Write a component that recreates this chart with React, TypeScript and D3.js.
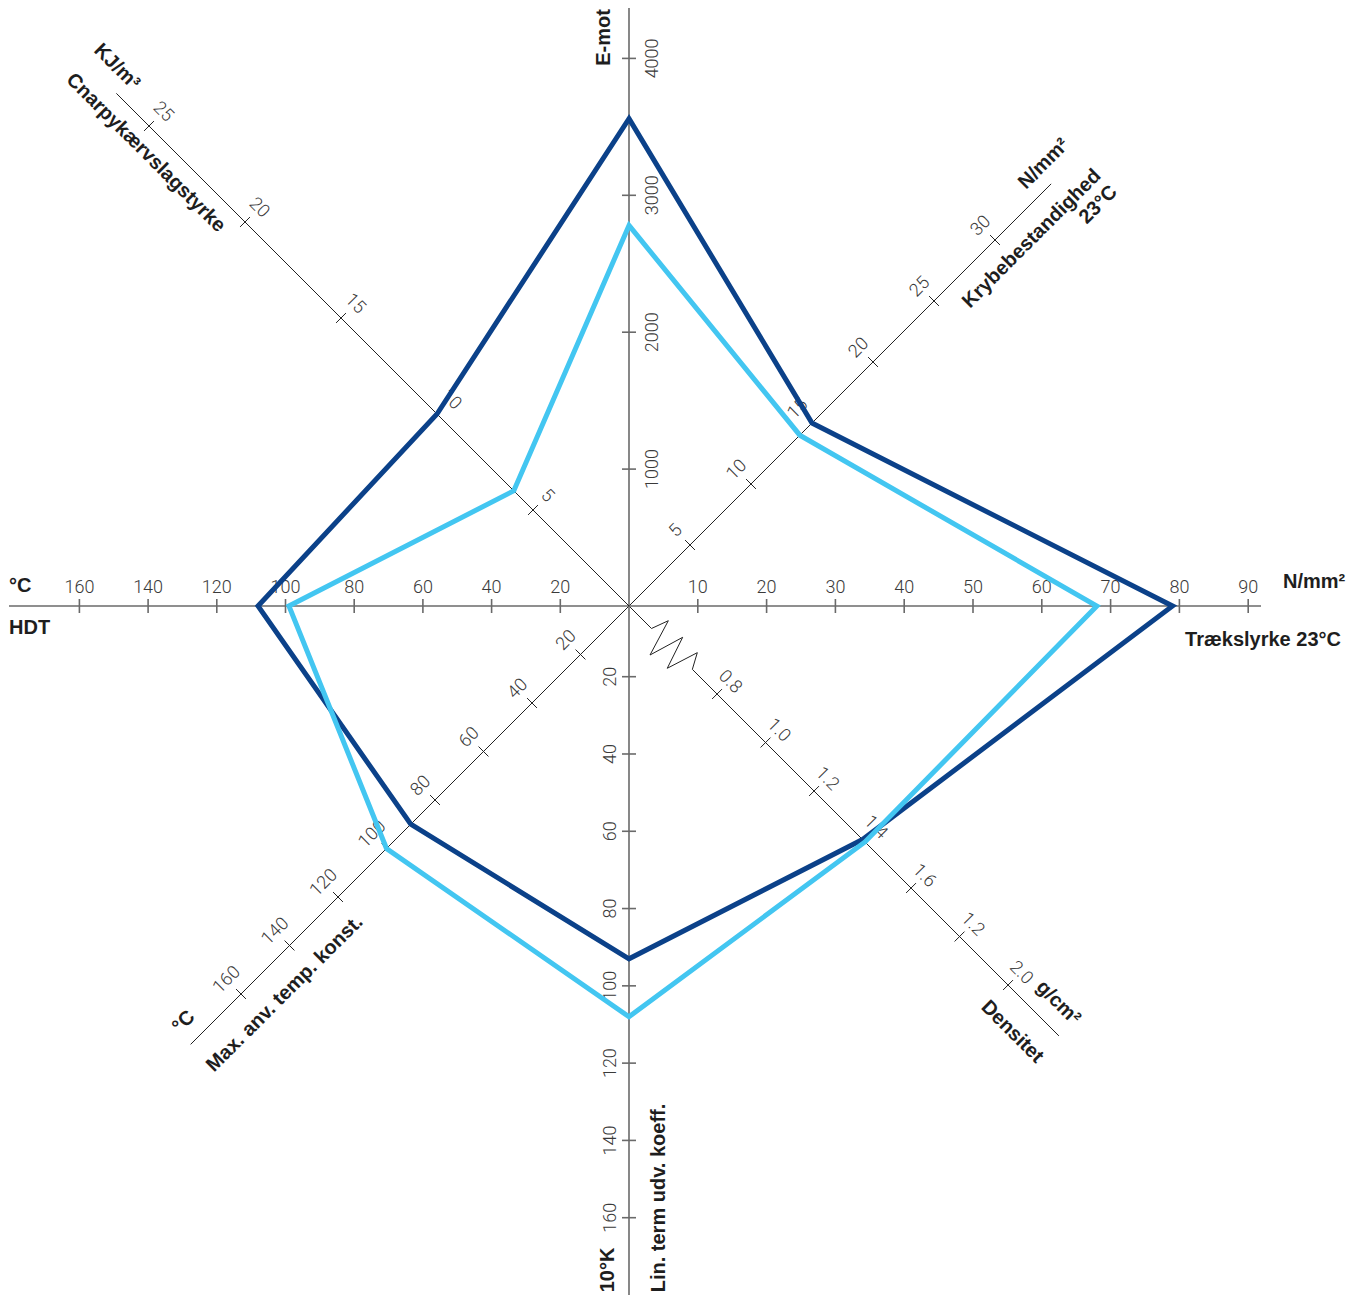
import React from "react";
import * as d3 from "d3";

// ---------- data ----------
const axisTitles = [
  "E-mot",
  "Krybebestandighed",
  "Trækslyrke 23°C",
  "Densitet",
  "Lin. term udv. koeff.",
  "Max. anv. temp. konst.",
  "HDT",
  "Cnarpykærvslagstyrke",
];
const axisUnits = ["", "N/mm²", "N/mm²", "g/cm²", "10°K", "°C", "°C", "KJ/m³"];

const emotTicks = [1000, 2000, 3000, 4000];
const krybeTicks = [5, 10, 15, 20, 25, 30];
const traekTicks = [10, 20, 30, 40, 50, 60, 70, 80, 90];
const densTicks = [0.8, 1.0, 1.2, 1.4, 1.6, 1.8, 2.0];
const densTickLabels = ["0.8", "1.0", "1.2", "1.4", "1.6", "1.2", "2.0"];
const linTicks = [20, 40, 60, 80, 100, 120, 140, 160];
const maxTempTicks = [20, 40, 60, 80, 100, 120, 140, 160];
const hdtTicks = [20, 40, 60, 80, 100, 120, 140, 160];
const charpyTicks = [5, 10, 15, 20, 25];

// values in axis order: E-mot, Krybe, Træk, Densitet, Lin, MaxTemp, HDT, Charpy
const seriesDark = [3560, 15, 79, 1.4, 93, 90, 108, 10];
const seriesLight = [2780, 14, 68, 1.41, 108, 100, 99, 6];

// ---------- layout ----------
const W = 1358;
const H = 1300;
const cx = 629;
const cy = 606;
const S2 = Math.SQRT2;

type AxisCfg = {
  angle: number;
  scale: d3.ScaleLinear<number, number>;
  len: number;
  ticks: number[];
  labels: string[];
  off: [number, number];
  rot: number;
  main: boolean;
};

const fmt = (v: number) => String(v);

const axes: AxisCfg[] = [
  { angle: -90, scale: d3.scaleLinear().domain([0, 4000]).range([0, 547.6]), len: 598, ticks: emotTicks, labels: emotTicks.map(fmt), off: [22, 0], rot: -90, main: true },
  { angle: -45, scale: d3.scaleLinear().domain([0, 30]).range([0, 30 * 12.2 * S2]), len: 597, ticks: krybeTicks, labels: krybeTicks.map(fmt), off: [-15, -15], rot: -45, main: false },
  { angle: 0, scale: d3.scaleLinear().domain([0, 90]).range([0, 619.2]), len: 632, ticks: traekTicks, labels: traekTicks.map(fmt), off: [0, -20], rot: 0, main: true },
  { angle: 45, scale: d3.scaleLinear().domain([0.8, 2.0]).range([124.5, 124.5 + 6 * 48.5 * S2]), len: 608, ticks: densTicks, labels: densTickLabels, off: [14, -13], rot: 45, main: false },
  { angle: 90, scale: d3.scaleLinear().domain([20, 160]).range([70.7, 611.7]), len: 689, ticks: linTicks, labels: linTicks.map(fmt), off: [-20, 0], rot: -90, main: true },
  { angle: 135, scale: d3.scaleLinear().domain([0, 160]).range([0, 8 * 48.5 * S2]), len: 620, ticks: maxTempTicks, labels: maxTempTicks.map(fmt), off: [-15, -15], rot: -45, main: false },
  { angle: 180, scale: d3.scaleLinear().domain([0, 160]).range([0, 8 * 68.7]), len: 620, ticks: hdtTicks, labels: hdtTicks.map(fmt), off: [0, -20], rot: 0, main: true },
  { angle: -135, scale: d3.scaleLinear().domain([0, 25]).range([0, 5 * 96 * S2]), len: 725, ticks: charpyTicks, labels: charpyTicks.map(fmt), off: [15, -15], rot: 45, main: false },
];

const zig: [number, number][] = [
  [31.8, 0], [38.2, 17.4], [49.5, -19.8], [60.1, 15.8], [71.1, -17], [81.3, 15.3], [89.6, 0],
];

function pt(a: AxisCfg, dist: number, w = 0): [number, number] {
  const t = (a.angle * Math.PI) / 180;
  const dx = Math.cos(t), dy = Math.sin(t);
  const px = dy, py = -dx;
  return [cx + dist * dx + w * px, cy + dist * dy + w * py];
}

const tickFont = "Roboto, 'Liberation Sans', Arial, sans-serif";
const boldFont = "'Liberation Sans', Arial, Helvetica, sans-serif";

function Axis({ a, idx }: { a: AxisCfg; idx: number }) {
  const stroke = a.main ? "#6a6a6a" : "#222";
  const sw = a.main ? 1.6 : 1;
  const end = pt(a, a.len);
  let lineEls: React.ReactNode;
  if (idx === 3) {
    const pts = zig.map(([u, w]) => pt(a, u, w));
    const path = d3.line()([[cx, cy], ...pts, end] as [number, number][]);
    lineEls = <path d={path || ""} fill="none" stroke={stroke} strokeWidth={sw} strokeLinejoin="miter" />;
  } else {
    lineEls = <line x1={cx} y1={cy} x2={end[0]} y2={end[1]} stroke={stroke} strokeWidth={sw} />;
  }
  return (
    <g>
      {lineEls}
      {a.ticks.map((v, i) => {
        const d = a.scale(v);
        const p1 = pt(a, d, 7);
        const p2 = pt(a, d, -7);
        const c = pt(a, d);
        return (
          <g key={i}>
            <line x1={p1[0]} y1={p1[1]} x2={p2[0]} y2={p2[1]} stroke={stroke} strokeWidth={sw} />
            <text
              transform={`translate(${c[0] + a.off[0]},${c[1] + a.off[1]}) rotate(${a.rot})`}
              textAnchor="middle"
              dominantBaseline="central"
              fontFamily={tickFont}
              fontWeight={300}
              fontSize={18}
              fill="#3a3a3a"
            >
              {a.labels[i]}
            </text>
          </g>
        );
      })}
    </g>
  );
}

function Bold({ x, y, rot = 0, children, anchor = "middle", base = "central" }: any) {
  return (
    <text
      transform={`translate(${x},${y}) rotate(${rot})`}
      textAnchor={anchor}
      dominantBaseline={base}
      fontFamily={boldFont}
      fontWeight="bold"
      fontSize={20}
      fill="#1e1e1e"
    >
      {children}
    </text>
  );
}

function poly(values: number[]) {
  const pts = values.map((v, i) => pt(axes[i], axes[i].scale(v)));
  return d3.line().curve(d3.curveLinearClosed)(pts as [number, number][]) || "";
}

export default function App() {
  return (
    <svg
      width={W}
      height={H}
      style={{ position: "absolute", left: 0, top: 0, background: "#fff" }}
    >
      <rect width={W} height={H} fill="#fff" />
      {axes.map((a, i) => (
        <Axis key={i} a={a} idx={i} />
      ))}
      <path d={poly(seriesDark)} fill="none" stroke="#0b4189" strokeWidth={5} strokeLinejoin="miter" />
      <path d={poly(seriesLight)} fill="none" stroke="#43c6f1" strokeWidth={5} strokeLinejoin="miter" />

      {/* E-mot */}
      <Bold x={603} y={37.5} rot={-90}>{axisTitles[0]}</Bold>
      {/* Krybebestandighed */}
      <Bold x={1043} y={163} rot={-45}>{axisUnits[1]}</Bold>
      <Bold x={1031} y={238} rot={-45}>{axisTitles[1]}</Bold>
      <Bold x={1097.5} y={204} rot={-45}>23°C</Bold>
      {/* Træk */}
      <Bold x={1283} y={588} anchor="start" base="auto">{axisUnits[2]}</Bold>
      <Bold x={1341} y={646} anchor="end" base="auto">{axisTitles[2]}</Bold>
      {/* Densitet */}
      <Bold x={1059} y={1002} rot={45}>{axisUnits[3]}</Bold>
      <Bold x={1013} y={1031} rot={45}>{axisTitles[3]}</Bold>
      {/* Lin term */}
      <Bold x={606.7} y={1270} rot={-90}>{axisUnits[4]}</Bold>
      <Bold x={658} y={1198} rot={-90}>{axisTitles[4]}</Bold>
      {/* Max anv temp */}
      <Bold x={183} y={1021} rot={-45}>{axisUnits[5]}</Bold>
      <Bold x={284} y={993} rot={-45}>{axisTitles[5]}</Bold>
      {/* HDT */}
      <Bold x={9} y={592} anchor="start" base="auto">{axisUnits[6]}</Bold>
      <Bold x={9} y={634} anchor="start" base="auto">{axisTitles[6]}</Bold>
      {/* Charpy */}
      <Bold x={117.5} y={66} rot={45}>{axisUnits[7]}</Bold>
      <Bold x={146.5} y={152} rot={45}>{axisTitles[7]}</Bold>
    </svg>
  );
}
